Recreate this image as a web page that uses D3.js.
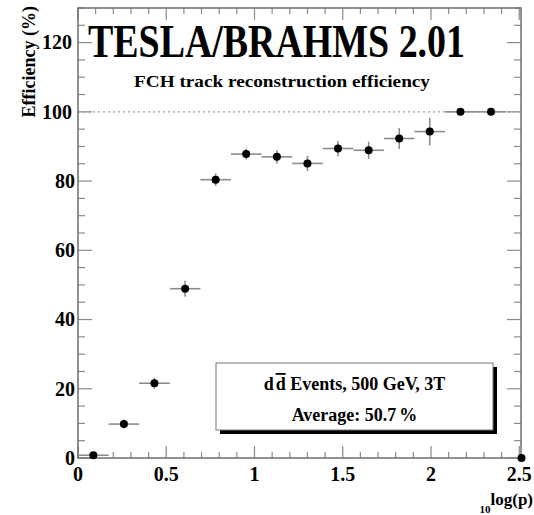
<!DOCTYPE html>
<html lang="en">
<head>
  <meta charset="UTF-8">
  <title>TESLA/BRAHMS 2.01 - FCH track reconstruction efficiency</title>
  <script src="https://d3js.org/d3.v7.min.js"></script>
  <style>
    body { margin: 0; background: #fff; }
    text { font-family: "Liberation Serif", "Times New Roman", serif; font-weight: bold; fill: #000; }
    .frame { fill: none; stroke: #6e6e6e; stroke-width: 1.5; }
    .tick line { stroke: #8a8a8a; stroke-width: 1.2; }
    .tick-label { font-size: 20px; }
    .err { stroke: #8c8c8c; stroke-width: 1.6; }
  </style>
</head>
<body>
<div id="chart"></div>
<script>
  // data
  const binCenters = [0.087, 0.26, 0.433, 0.607, 0.78, 0.953, 1.127, 1.3, 1.473, 1.647, 1.82, 1.993, 2.167, 2.34, 2.513];
  const binHalfWidth = 0.0867;
  const efficiency = [0.8, 9.8, 21.6, 48.9, 80.4, 87.8, 87.0, 85.1, 89.4, 88.9, 92.3, 94.3, 100, 100, 0];
  const effError = [0.5, 1.3, 1.6, 2.3, 1.8, 1.6, 1.9, 2.2, 2.2, 2.5, 3.0, 4.0, 0, 0, 0];
  const xTickLabels = [0, 0.5, 1, 1.5, 2, 2.5];
  const yTickLabels = [0, 20, 40, 60, 80, 100, 120];

  const width = 534, height = 515;
  const plot = { left: 78, right: 521, top: 8, bottom: 458 };

  const svg = d3.select("#chart").append("svg")
    .attr("width", width)
    .attr("height", height);

  const x = d3.scaleLinear().domain([0, 2.51]).range([plot.left, plot.right]);
  const y = d3.scaleLinear().domain([0, 130]).range([plot.bottom, plot.top]);

  // minor/major tick sets
  const xMinor = d3.range(0, 2.51, 0.1).map(v => +v.toFixed(2));
  const yMinor = d3.range(0, 131, 5);

  function isMajorX(v) { return Math.abs(v * 2 - Math.round(v * 2)) < 1e-6; }
  function isMajorY(v) { return v % 20 === 0; }

  // bottom ticks
  svg.append("g").attr("class", "tick")
    .selectAll("line").data(xMinor).enter().append("line")
    .attr("x1", d => x(d)).attr("x2", d => x(d))
    .attr("y1", plot.bottom).attr("y2", d => plot.bottom - (isMajorX(d) ? 12 : 6));
  // top ticks
  svg.append("g").attr("class", "tick")
    .selectAll("line").data(xMinor).enter().append("line")
    .attr("x1", d => x(d)).attr("x2", d => x(d))
    .attr("y1", plot.top).attr("y2", d => plot.top + (isMajorX(d) ? 12 : 6));
  // left ticks
  svg.append("g").attr("class", "tick")
    .selectAll("line").data(yMinor).enter().append("line")
    .attr("y1", d => y(d)).attr("y2", d => y(d))
    .attr("x1", plot.left).attr("x2", d => plot.left + (isMajorY(d) ? 14 : 7));
  // right ticks
  svg.append("g").attr("class", "tick")
    .selectAll("line").data(yMinor).enter().append("line")
    .attr("y1", d => y(d)).attr("y2", d => y(d))
    .attr("x1", plot.right).attr("x2", d => plot.right - (isMajorY(d) ? 14 : 7));

  // tick labels
  svg.selectAll(".xlab").data(xTickLabels).enter().append("text")
    .attr("class", "tick-label")
    .attr("x", d => x(d))
    .attr("y", 481)
    .attr("text-anchor", "middle")
    .text(d => d);

  svg.selectAll(".ylab").data(yTickLabels).enter().append("text")
    .attr("class", "tick-label")
    .attr("x", d => d >= 100 ? 72 : 75)
    .attr("y", d => y(d))
    .attr("dy", "0.34em")
    .attr("text-anchor", "end")
    .text(d => d);

  // 100% reference line
  svg.append("line")
    .attr("x1", plot.left).attr("x2", plot.right)
    .attr("y1", y(100)).attr("y2", y(100))
    .attr("stroke", "#9a9a9a")
    .attr("stroke-width", 1.2)
    .attr("stroke-dasharray", "2,3");

  // frame
  svg.append("rect")
    .attr("class", "frame")
    .attr("x", plot.left).attr("y", plot.top)
    .attr("width", plot.right - plot.left).attr("height", plot.bottom - plot.top);

  // error bars
  const pts = binCenters.map((c, i) => ({ c, v: efficiency[i], e: effError[i] }));

  svg.selectAll(".hbar").data(pts).enter().append("line")
    .attr("class", "err")
    .attr("x1", d => x(d.c - binHalfWidth))
    .attr("x2", d => Math.min(x(d.c + binHalfWidth), plot.right))
    .attr("y1", d => y(d.v)).attr("y2", d => y(d.v));

  svg.selectAll(".vbar").data(pts.filter(d => d.e > 0)).enter().append("line")
    .attr("class", "err")
    .attr("x1", d => x(d.c)).attr("x2", d => x(d.c))
    .attr("y1", d => y(d.v - d.e)).attr("y2", d => y(d.v + d.e));

  svg.selectAll(".pt").data(pts).enter().append("circle")
    .attr("cx", d => x(d.c))
    .attr("cy", d => y(d.v))
    .attr("r", 4)
    .attr("fill", "#000");

  // titles (ROOT draws these a little stretched vertically)
  svg.append("text")
    .attr("transform", "translate(88,57) scale(0.972,1.2)")
    .attr("font-size", 39)
    .text("TESLA/BRAHMS 2.01");

  svg.append("text")
    .attr("x", 134).attr("y", 87)
    .attr("font-size", 17)
    .attr("textLength", 296)
    .attr("lengthAdjust", "spacingAndGlyphs")
    .text("FCH track reconstruction efficiency");

  // axis titles
  svg.append("text")
    .attr("transform", "translate(35,6) rotate(-90)")
    .attr("text-anchor", "end")
    .attr("font-size", 18)
    .text("Efficiency (%)");

  const xt = svg.append("text")
    .attr("x", 533).attr("y", 505)
    .attr("text-anchor", "end")
    .attr("font-size", 17);
  xt.append("tspan").attr("font-size", 11).attr("dy", 8).text("10");
  xt.append("tspan").attr("dy", -8).text("log(p)");

  // legend box with shadow
  const bx = 216, by = 363, bw = 277, bh = 67;
  svg.append("rect")
    .attr("x", bx + 4).attr("y", by + 4)
    .attr("width", bw).attr("height", bh)
    .attr("fill", "#000");
  svg.append("rect")
    .attr("x", bx).attr("y", by)
    .attr("width", bw).attr("height", bh)
    .attr("fill", "#fff")
    .attr("stroke", "#777")
    .attr("stroke-width", 1);

  const l1 = svg.append("text")
    .attr("x", bx + bw / 2).attr("y", 390)
    .attr("text-anchor", "middle")
    .attr("font-size", 18);
  l1.append("tspan").text("d");
  l1.append("tspan").attr("dx", 2).style("text-decoration", "overline").text("d");
  l1.append("tspan").text(" Events, 500 GeV, 3T");

  const l2 = svg.append("text")
    .attr("x", bx + bw / 2).attr("y", 421)
    .attr("text-anchor", "middle")
    .attr("font-size", 18);
  l2.append("tspan").text("Average: 50.7");
  l2.append("tspan").attr("dx", 3).text("%");
</script>
</body>
</html>
